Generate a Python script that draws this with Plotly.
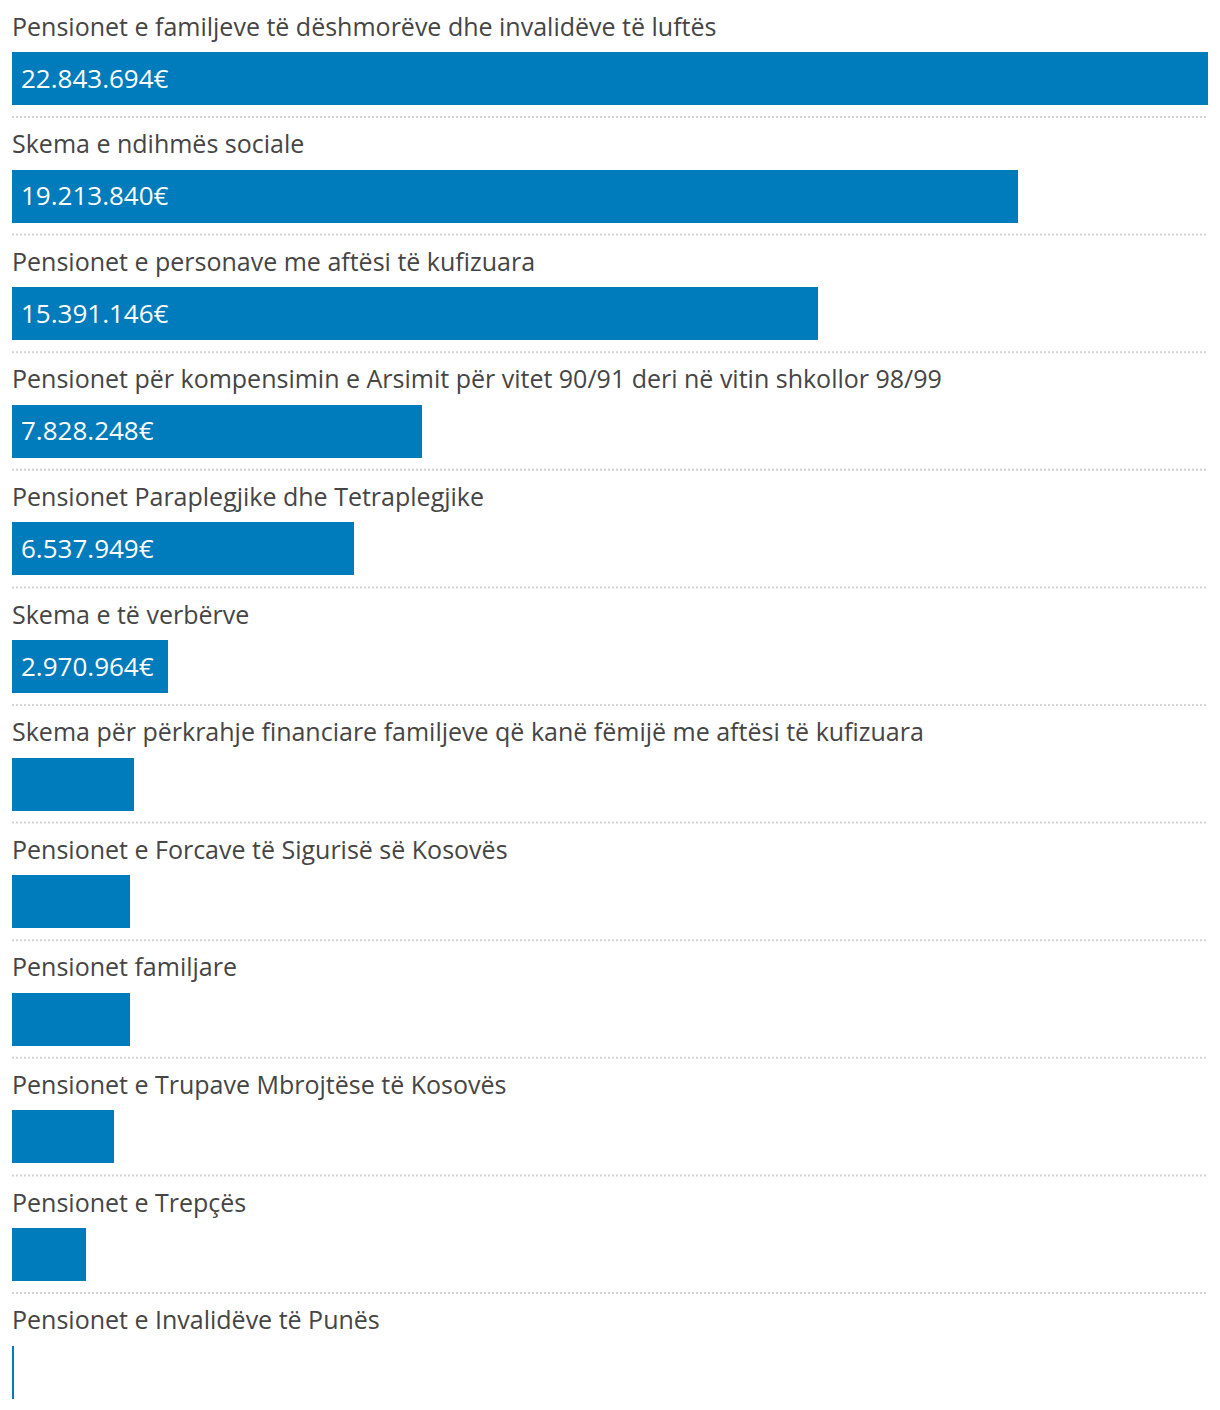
import plotly.graph_objects as go

categories = [
    "Pensionet e familjeve të dëshmorëve dhe invalidëve të luftës",
    "Skema e ndihmës sociale",
    "Pensionet e personave me aftësi të kufizuara",
    "Pensionet për kompensimin e Arsimit për vitet 90/91 deri në vitin shkollor 98/99",
    "Pensionet Paraplegjike dhe Tetraplegjike",
    "Skema e të verbërve",
    "Skema për përkrahje financiare familjeve që kanë fëmijë me aftësi të kufizuara",
    "Pensionet e Forcave të Sigurisë së Kosovës",
    "Pensionet familjare",
    "Pensionet e Trupave Mbrojtëse të Kosovës",
    "Pensionet e Trepçës",
    "Pensionet e Invalidëve të Punës",
]
values = [22843694, 19213840, 15391146, 7828248, 6537949, 2970964,
          2330000, 2255000, 2250000, 1950000, 1415000, 40000]

def fmt(v):
    return f"{v:,}".replace(",", ".") + "€"

BAR = "#007bbb"
FONT = "Open Sans"
# page body has an 8px margin
W, H = 1212, 1402
left, right = 4, 12
pitch = 117.6
first_center = 70.5
n = len(categories)
ys = list(range(n))

fig = go.Figure(go.Bar(
    x=values, y=ys, orientation="h",
    marker=dict(color=BAR, line=dict(width=0)),
    width=53 / pitch, hoverinfo="skip",
))

annotations = []
shapes = []
xmax = max(values)
for i, (c, v) in enumerate(zip(categories, values)):
    annotations.append(dict(
        x=0, y=i, xref="x", yref="y", text=c, showarrow=False,
        xanchor="left", yanchor="middle", xshift=-1, yshift=53,
        borderpad=0,
        font=dict(family=FONT, size=25, color="#454545"),
    ))
    if v / xmax > 0.12:
        annotations.append(dict(
            x=0, y=i, xref="x", yref="y", text=fmt(v), showarrow=False,
            xanchor="left", yanchor="middle", xshift=7, yshift=1,
            font=dict(family=FONT, size=26, color="white"),
        ))
    if i < n - 1:
        shapes.append(dict(
            type="line", xref="paper", yref="y", x0=0, x1=1,
            y0=i + 38.5 / pitch, y1=i + 38.5 / pitch,
            line=dict(color="#d3d3d3", width=2, dash="2px,2px"),
        ))

fig.update_layout(
    width=W, height=H,
    margin=dict(l=left, r=right, t=0, b=0),
    paper_bgcolor="white", plot_bgcolor="white",
    showlegend=False,
    xaxis=dict(range=[0, xmax], visible=False, fixedrange=True),
    yaxis=dict(range=[(H - first_center) / pitch, -first_center / pitch],
               visible=False, fixedrange=True),
    annotations=annotations, shapes=shapes,
    bargap=0,
)

fig.write_html("out.html")
